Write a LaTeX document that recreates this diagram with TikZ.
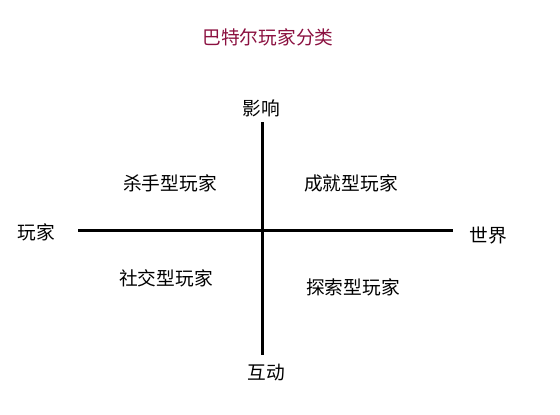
\documentclass[tikz,border=0pt]{standalone}
\usepackage{fontspec}
\setmainfont{Noto Sans CJK SC}
\definecolor{titlered}{HTML}{8B1040}
\begin{document}
\begin{tikzpicture}[x=1pt,y=-1pt,
  lbl/.style={inner sep=0pt,font=\fontsize{18.7pt}{20pt}\selectfont},
  axis/.style={line width=3pt,black}]
\useasboundingbox[fill=white] (0,0) rectangle (560,415);
\node[lbl,text=titlered] (title) at (268,37) {巴特尔玩家分类};
\coordinate (top) at (262,122);
\coordinate (bot) at (262,355);
\coordinate (left) at (78,230);
\coordinate (right) at (453,230);
\draw[axis] (top) -- (bot);
\draw[axis] (left) -- (right);
\node[lbl] (up) at (261.5,108) {影响};
\node[lbl] (down) at (266,373) {互动};
\node[lbl] (wl) at (36,232) {玩家};
\node[lbl] (wr) at (488,235) {世界};
\node[lbl] (q1) at (170,183) {杀手型玩家};
\node[lbl] (q2) at (351,183) {成就型玩家};
\node[lbl] (q3) at (166,278) {社交型玩家};
\node[lbl] (q4) at (353,287) {探索型玩家};
\end{tikzpicture}
\end{document}
